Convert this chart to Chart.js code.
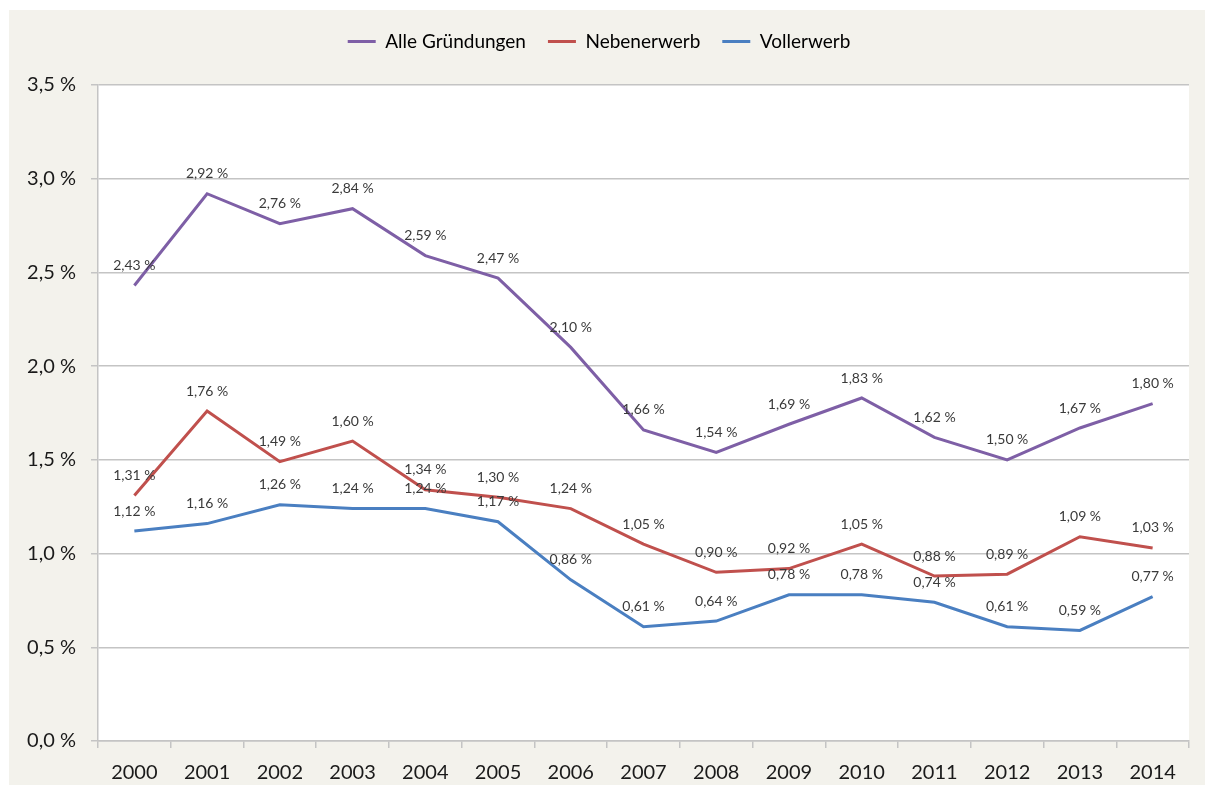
<!DOCTYPE html>
<html>
<head>
<meta charset="utf-8">
<script src="https://cdn.jsdelivr.net/npm/chart.js@4.4.1/dist/chart.umd.min.js"></script>
<style>
    html, body { margin: 0; padding: 0; background: #ffffff; }
    #wrap { position: absolute; left: 9px; top: 10px; width: 1196px; height: 775px; background: #f3f2ec; }
</style>
</head>
<body>
<div id="wrap"><canvas id="chart"></canvas></div>
<script>
const years = ['2000', '2001', '2002', '2003', '2004', '2005', '2006', '2007', '2008', '2009', '2010', '2011', '2012', '2013', '2014'];
const alleGruendungen = [2.43, 2.92, 2.76, 2.84, 2.59, 2.47, 2.10, 1.66, 1.54, 1.69, 1.83, 1.62, 1.50, 1.67, 1.80];
const nebenerwerb = [1.31, 1.76, 1.49, 1.60, 1.34, 1.30, 1.24, 1.05, 0.90, 0.92, 1.05, 0.88, 0.89, 1.09, 1.03];
const vollerwerb = [1.12, 1.16, 1.26, 1.24, 1.24, 1.17, 0.86, 0.61, 0.64, 0.78, 0.78, 0.74, 0.61, 0.59, 0.77];

const fontFamily = 'Lato, "Open Sans", sans-serif';
const gridColor = '#c4c4c4';

const plotBackground = {
    id: 'plotBackground',
    beforeDraw(chart) {
        const { ctx, chartArea } = chart;
        ctx.save();
        ctx.fillStyle = '#ffffff';
        ctx.fillRect(chartArea.left, chartArea.top, chartArea.right - chartArea.left, chartArea.bottom - chartArea.top);
        ctx.restore();
    }
};

// extra room under the legend
const legendSpacing = {
    id: 'legendSpacing',
    beforeInit(chart) {
        const fit = chart.legend.fit;
        chart.legend.fit = function() {
            fit.bind(chart.legend)();
            this.height += 24;
        };
    }
};

const pointLabels = {
    id: 'pointLabels',
    afterDatasetsDraw(chart) {
        const ctx = chart.ctx;
        ctx.save();
        ctx.font = '14px ' + fontFamily;
        ctx.fillStyle = '#3a3a3a';
        ctx.textAlign = 'center';
        ctx.textBaseline = 'middle';
        chart.data.datasets.forEach((ds, i) => {
            chart.getDatasetMeta(i).data.forEach((pt, j) => {
                const txt = ds.data[j].toFixed(2).replace('.', ',') + ' %';
                ctx.fillText(txt, pt.x, pt.y - 20);
            });
        });
        ctx.restore();
    }
};

new Chart(document.getElementById('chart'), {
    type: 'line',
    data: {
        labels: years,
        datasets: [
            { label: 'Alle Gründungen', data: alleGruendungen, borderColor: '#7e5fa6', backgroundColor: '#7e5fa6' },
            { label: 'Nebenerwerb', data: nebenerwerb, borderColor: '#c0504d', backgroundColor: '#c0504d' },
            { label: 'Vollerwerb', data: vollerwerb, borderColor: '#4a7fc1', backgroundColor: '#4a7fc1' }
        ]
    },
    options: {
        responsive: true,
        maintainAspectRatio: false,
        animation: false,
        layout: { padding: { left: 0, right: 16, top: 0, bottom: 0 } },
        elements: {
            line: { borderWidth: 3, tension: 0 },
            point: { radius: 0, hoverRadius: 0 }
        },
        plugins: {
            tooltip: { enabled: false },
            legend: {
                position: 'top',
                labels: {
                    color: '#1a1a1a',
                    font: { family: fontFamily, size: 19 },
                    boxWidth: 28,
                    boxHeight: 3,
                    padding: 22,
                    generateLabels(chart) {
                        return chart.data.datasets.map((ds, i) => ({
                            text: ds.label,
                            fillStyle: ds.borderColor,
                            strokeStyle: ds.borderColor,
                            lineWidth: 0,
                            datasetIndex: i
                        }));
                    }
                }
            }
        },
        scales: {
            x: {
                offset: true,
                grid: { offset: true, drawOnChartArea: false, drawTicks: true, tickLength: 7, color: gridColor, lineWidth: 1.5 },
                border: { color: gridColor, width: 1.5 },
                ticks: { color: '#1a1a1a', font: { family: fontFamily, size: 20 }, padding: 13 },
                afterFit(scale) { scale.height = 44; }
            },
            y: {
                min: 0,
                max: 3.5,
                grid: { color: gridColor, lineWidth: 1.5, tickLength: 7 },
                border: { color: gridColor, width: 1.5 },
                ticks: {
                    stepSize: 0.5,
                    color: '#1a1a1a',
                    font: { family: fontFamily, size: 20 },
                    padding: 15,
                    callback: v => v.toFixed(1).replace('.', ',') + ' %'
                },
                afterFit(scale) { scale.width = 89; }
            }
        }
    },
    plugins: [plotBackground, legendSpacing, pointLabels]
});
</script>
</body>
</html>
